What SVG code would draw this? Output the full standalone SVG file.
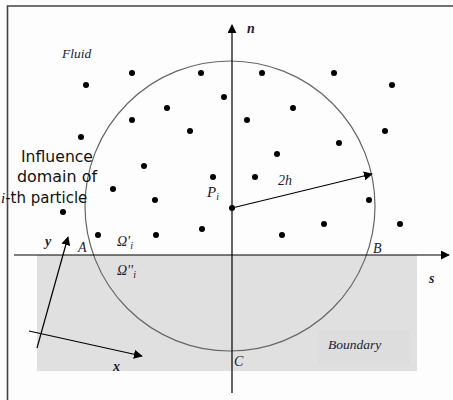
<svg xmlns="http://www.w3.org/2000/svg" width="453" height="400" viewBox="0 0 453 400">
<defs>
<style>
.lbl{font-family:"Liberation Serif","Times New Roman",serif;font-style:italic;fill:#1c1c30}
.bold{font-weight:bold}
.sans{font-family:"DejaVu Sans",Verdana,sans-serif;font-size:15px;fill:#111}
.axis{stroke:#000;stroke-width:1.2;fill:none}
.dot{fill:#000}
</style>
<marker id="ah" viewBox="0 0 10 10" refX="9" refY="5" markerWidth="9" markerHeight="9" markerUnits="userSpaceOnUse" orient="auto">
<path d="M0,0 L10,5 L0,10 Z" fill="#000"/>
</marker>
</defs>
<rect x="0" y="0" width="453" height="400" fill="#fdfdfd"/>
<path d="M7.5,400 V6 H453" fill="none" stroke="#444" stroke-width="1.6"/>
<g id="boundary">
<rect x="37" y="255" width="380" height="116" fill="#e0e0e0"/>
<rect x="318" y="330" width="92" height="35" fill="#dddddd"/>
<text class="lbl" x="328" y="349" font-size="13.5">Boundary</text>
</g>
<g id="domain">
<circle cx="230" cy="206" r="145" fill="none" stroke="#666" stroke-width="1.2"/>
</g>
<g id="connectors">
<line class="axis" x1="14" y1="255" x2="449" y2="255" marker-end="url(#ah)"/>
<line class="axis" x1="232" y1="393" x2="232" y2="25" marker-end="url(#ah)"/>
<line class="axis" x1="232" y1="208" x2="372" y2="174" marker-end="url(#ah)"/>
<line class="axis" x1="37" y1="348" x2="68" y2="237" marker-end="url(#ah)"/>
<line class="axis" x1="29" y1="331" x2="142" y2="356" marker-end="url(#ah)"/>
</g>
<g id="particles">
<circle class="dot" cx="132" cy="73" r="3"/>
<circle class="dot" cx="201" cy="73" r="3"/>
<circle class="dot" cx="262" cy="73" r="3"/>
<circle class="dot" cx="334" cy="73" r="3"/>
<circle class="dot" cx="86" cy="85" r="3"/>
<circle class="dot" cx="392" cy="85" r="3"/>
<circle class="dot" cx="224" cy="97" r="3"/>
<circle class="dot" cx="167" cy="108" r="3"/>
<circle class="dot" cx="293" cy="108" r="3"/>
<circle class="dot" cx="132" cy="120" r="3"/>
<circle class="dot" cx="247" cy="120" r="3"/>
<circle class="dot" cx="190" cy="131" r="3"/>
<circle class="dot" cx="385" cy="131" r="3"/>
<circle class="dot" cx="81" cy="137" r="3"/>
<circle class="dot" cx="339" cy="143" r="3"/>
<circle class="dot" cx="277" cy="154" r="3"/>
<circle class="dot" cx="144" cy="166" r="3"/>
<circle class="dot" cx="213" cy="177" r="3"/>
<circle class="dot" cx="255" cy="177" r="3"/>
<circle class="dot" cx="113" cy="189" r="3"/>
<circle class="dot" cx="155" cy="200" r="3"/>
<circle class="dot" cx="369" cy="200" r="3"/>
<circle class="dot" cx="63" cy="212" r="3"/>
<circle class="dot" cx="202" cy="229" r="3"/>
<circle class="dot" cx="324" cy="224" r="3"/>
<circle class="dot" cx="400" cy="224" r="3"/>
<circle class="dot" cx="98" cy="235" r="3"/>
<circle class="dot" cx="156" cy="235" r="3"/>
<circle class="dot" cx="282" cy="235" r="3"/>
</g>
<g id="particle-i">
<circle class="dot" cx="232" cy="208" r="3"/>
<text class="lbl" x="207" y="197" font-size="15">P<tspan font-size="10" dy="3">i</tspan></text>
</g>
<g id="labels">
<text class="lbl" x="62" y="58" font-size="13.5">Fluid</text>
<text class="lbl bold" x="247" y="33" font-size="14">n</text>
<text class="lbl bold" x="429" y="283" font-size="14">s</text>
<text class="lbl bold" x="45" y="246" font-size="14">y</text>
<text class="lbl bold" x="113" y="371" font-size="14">x</text>
<text class="lbl" x="278" y="185" font-size="14">2h</text>
<text class="lbl" x="78" y="252" font-size="14">A</text>
<text class="lbl" x="373" y="253" font-size="14">B</text>
<text class="lbl" x="234" y="366" font-size="14">C</text>
<text class="lbl" x="117" y="246" font-size="14">Ω'<tspan font-size="10" dy="3">i</tspan></text>
<text class="lbl" x="117" y="275" font-size="14">Ω''<tspan font-size="10" dy="3">i</tspan></text>
</g>
<g id="influence-label">
<text class="sans" x="21" y="162" textLength="72" lengthAdjust="spacingAndGlyphs">Influence</text>
<text class="sans" x="17" y="182" textLength="80" lengthAdjust="spacingAndGlyphs">domain of</text>
<text class="sans" x="1" y="203"><tspan font-family="Liberation Serif,serif" font-style="italic">i</tspan>-th particle</text>
</g>
</svg>
